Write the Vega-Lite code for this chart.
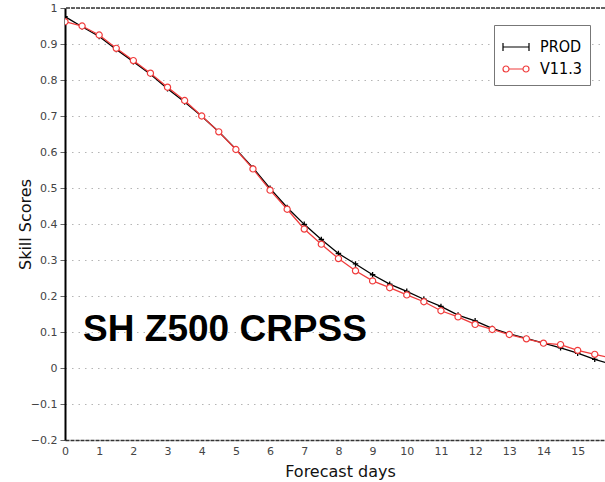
{
  "$schema": "https://vega.github.io/schema/vega-lite/v6.json",
  "width": 540,
  "height": 432,
  "autosize": {"type": "none"},
  "padding": {"left": 65, "top": 8, "right": 0, "bottom": 42},
  "background": "white",
  "config": {
    "view": {"stroke": null},
    "font": "DejaVu Sans"
  },
  "datasets": {
    "scores": [
      {"day": 0, "series": "PROD", "score": 0.976},
      {"day": 0.5, "series": "PROD", "score": 0.948},
      {"day": 1, "series": "PROD", "score": 0.921},
      {"day": 1.5, "series": "PROD", "score": 0.885},
      {"day": 2, "series": "PROD", "score": 0.851},
      {"day": 2.5, "series": "PROD", "score": 0.816},
      {"day": 3, "series": "PROD", "score": 0.776},
      {"day": 3.5, "series": "PROD", "score": 0.739},
      {"day": 4, "series": "PROD", "score": 0.699},
      {"day": 4.5, "series": "PROD", "score": 0.656},
      {"day": 5, "series": "PROD", "score": 0.608},
      {"day": 5.5, "series": "PROD", "score": 0.556},
      {"day": 6, "series": "PROD", "score": 0.499},
      {"day": 6.5, "series": "PROD", "score": 0.446},
      {"day": 7, "series": "PROD", "score": 0.399},
      {"day": 7.5, "series": "PROD", "score": 0.357},
      {"day": 8, "series": "PROD", "score": 0.318},
      {"day": 8.5, "series": "PROD", "score": 0.289},
      {"day": 9, "series": "PROD", "score": 0.259},
      {"day": 9.5, "series": "PROD", "score": 0.233},
      {"day": 10, "series": "PROD", "score": 0.213},
      {"day": 10.5, "series": "PROD", "score": 0.191},
      {"day": 11, "series": "PROD", "score": 0.171},
      {"day": 11.5, "series": "PROD", "score": 0.147},
      {"day": 12, "series": "PROD", "score": 0.131},
      {"day": 12.5, "series": "PROD", "score": 0.110},
      {"day": 13, "series": "PROD", "score": 0.095},
      {"day": 13.5, "series": "PROD", "score": 0.082},
      {"day": 14, "series": "PROD", "score": 0.069},
      {"day": 14.5, "series": "PROD", "score": 0.056},
      {"day": 15, "series": "PROD", "score": 0.041},
      {"day": 15.5, "series": "PROD", "score": 0.024},
      {"day": 16, "series": "PROD", "score": 0.010},
      {"day": 0, "series": "V11.3", "score": 0.962},
      {"day": 0.5, "series": "V11.3", "score": 0.950},
      {"day": 1, "series": "V11.3", "score": 0.925},
      {"day": 1.5, "series": "V11.3", "score": 0.888},
      {"day": 2, "series": "V11.3", "score": 0.854},
      {"day": 2.5, "series": "V11.3", "score": 0.819},
      {"day": 3, "series": "V11.3", "score": 0.780},
      {"day": 3.5, "series": "V11.3", "score": 0.743},
      {"day": 4, "series": "V11.3", "score": 0.700},
      {"day": 4.5, "series": "V11.3", "score": 0.656},
      {"day": 5, "series": "V11.3", "score": 0.607},
      {"day": 5.5, "series": "V11.3", "score": 0.553},
      {"day": 6, "series": "V11.3", "score": 0.494},
      {"day": 6.5, "series": "V11.3", "score": 0.441},
      {"day": 7, "series": "V11.3", "score": 0.386},
      {"day": 7.5, "series": "V11.3", "score": 0.344},
      {"day": 8, "series": "V11.3", "score": 0.304},
      {"day": 8.5, "series": "V11.3", "score": 0.270},
      {"day": 9, "series": "V11.3", "score": 0.242},
      {"day": 9.5, "series": "V11.3", "score": 0.223},
      {"day": 10, "series": "V11.3", "score": 0.203},
      {"day": 10.5, "series": "V11.3", "score": 0.184},
      {"day": 11, "series": "V11.3", "score": 0.159},
      {"day": 11.5, "series": "V11.3", "score": 0.142},
      {"day": 12, "series": "V11.3", "score": 0.121},
      {"day": 12.5, "series": "V11.3", "score": 0.107},
      {"day": 13, "series": "V11.3", "score": 0.093},
      {"day": 13.5, "series": "V11.3", "score": 0.081},
      {"day": 14, "series": "V11.3", "score": 0.069},
      {"day": 14.5, "series": "V11.3", "score": 0.065},
      {"day": 15, "series": "V11.3", "score": 0.049},
      {"day": 15.5, "series": "V11.3", "score": 0.038},
      {"day": 16, "series": "V11.3", "score": 0.027}
    ],
    "label": [
      {"day": 0.53, "score": 0.076, "text": "SH Z500 CRPSS"}
    ],
    "border": [
      {"score": 1}
    ]
  },
  "encoding": {
    "x": {
      "field": "day", "type": "quantitative",
      "scale": {"domain": [0, 15.8], "nice": false, "zero": false},
      "axis": {
        "title": "Forecast days",
        "values": [0,1,2,3,4,5,6,7,8,9,10,11,12,13,14,15],
        "grid": false, "ticks": false,
        "domainColor": "#333333", "domainWidth": 1.5, "domainDash": [4, 1],
        "labelFont": "DejaVu Sans", "labelFontSize": 11, "labelColor": "#444444",
        "labelPadding": 5, "labelFlush": false,
        "titleFont": "DejaVu Sans", "titleFontSize": 16, "titleFontWeight": "normal", "titleColor": "#111111",
        "titleX": 275, "titleY": 36, "titleBaseline": "alphabetic", "titleAnchor": null
      }
    },
    "y": {
      "field": "score", "type": "quantitative",
      "scale": {"domain": [-0.2, 1], "nice": false, "zero": false},
      "axis": {
        "title": "Skill Scores",
        "values": [-0.2,-0.1,0,0.1,0.2,0.3,0.4,0.5,0.6,0.7,0.8,0.9,1],
        "format": ".1~f",
        "grid": true, "gridColor": "#b5b5b5", "gridDash": [1.5, 5], "gridWidth": 1,
        "domainColor": "#000000", "domainWidth": 2,
        "ticks": true, "tickSize": 5, "tickColor": "#666666",
        "labelFont": "DejaVu Sans", "labelFontSize": 11, "labelColor": "#444444",
        "labelPadding": 3, "labelFlush": false,
        "titleFont": "DejaVu Sans", "titleFontSize": 16, "titleFontWeight": "normal", "titleColor": "#111111",
        "titleX": -40, "titleY": 216, "titleAngle": -90, "titleBaseline": "middle", "titleAlign": "center"
      }
    }
  },
  "layer": [
    {
      "data": {"name": "border"},
      "mark": {"type": "rule", "stroke": "#333333", "strokeWidth": 1.5, "strokeDash": [4, 1]},
      "encoding": {"x": null, "y": {"field": "score", "type": "quantitative"}}
    },
    {
      "data": {"name": "scores"},
      "mark": {"type": "line", "strokeWidth": 1.3, "clip": true},
      "encoding": {
        "color": {
          "field": "series", "type": "nominal",
          "scale": {"domain": ["PROD", "V11.3"], "range": ["#000000", "#f03c3c"]},
          "legend": {
            "title": null,
            "orient": "none", "legendX": 429, "legendY": 17,
            "fillColor": "white", "strokeColor": "#777777", "padding": 8,
            "symbolSize": 676, "symbolStrokeWidth": 1.2,
            "labelFont": "Liberation Sans Narrow, DejaVu Sans Condensed, sans-serif",
            "labelFontSize": 16, "labelColor": "#000000", "labelOffset": 10,
            "rowPadding": 0,
            "encode": {
              "symbols": {
                "update": {
                  "shape": {"signal": "datum.value === 'PROD' ? 'M-1,0L1,0M-1,-0.3L-1,0.3M1,-0.3L1,0.3' : 'M-0.54,0L0.54,0M-0.54,0A0.23,0.23 0 1 1 -1,0A0.23,0.23 0 1 1 -0.54,0M1,0A0.23,0.23 0 1 1 0.54,0A0.23,0.23 0 1 1 1,0'"},
                  "stroke": {"signal": "datum.value === 'PROD' ? '#000000' : '#f03c3c'"},
                  "fill": {"value": "white"},
                  "strokeWidth": {"value": 1.2}
                }
              }
            }
          }
        }
      }
    },
    {
      "data": {"name": "scores"},
      "transform": [{"filter": "datum.series === 'PROD'"}],
      "mark": {"type": "point", "shape": "M-1,0L1,0M0,-1L0,1", "size": 30, "stroke": "#000000", "strokeWidth": 1.3, "filled": false, "opacity": 1, "clip": true},
      "encoding": {}
    },
    {
      "data": {"name": "scores"},
      "transform": [{"filter": "datum.series === 'V11.3'"}],
      "mark": {"type": "point", "shape": "circle", "size": 38, "stroke": "#f03c3c", "strokeWidth": 1.2, "fill": "white", "filled": true, "strokeOpacity": 1, "fillOpacity": 1, "opacity": 1, "clip": true},
      "encoding": {"stroke": {"value": "#f03c3c"}}
    },
    {
      "data": {"name": "label"},
      "mark": {"type": "text", "font": "Liberation Sans", "fontWeight": "bold", "fontSize": 37, "align": "left", "baseline": "alphabetic", "color": "#000000"},
      "encoding": {"text": {"field": "text"}}
    }
  ]
}
